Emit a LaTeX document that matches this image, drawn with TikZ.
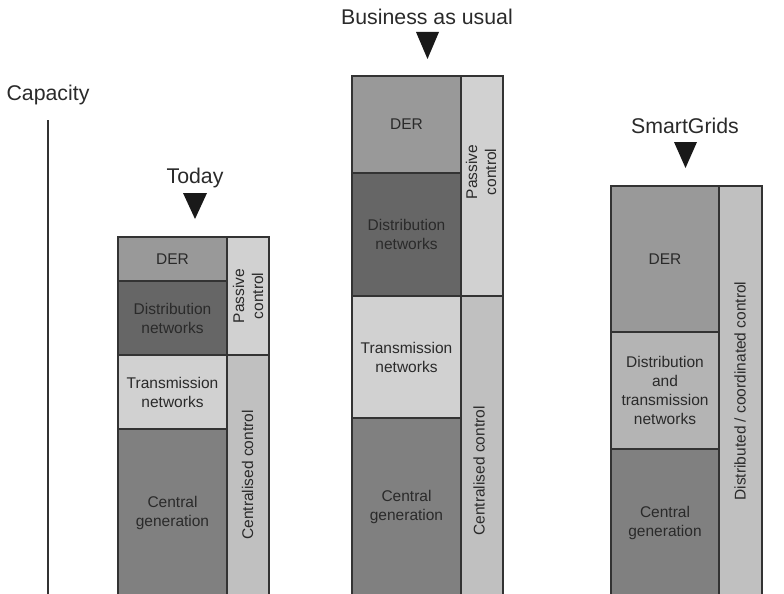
\documentclass[tikz,border=0pt]{standalone}
\usepackage{fontspec}
\setmainfont{Liberation Sans}
\definecolor{cder}{HTML}{999999}
\definecolor{cdist}{HTML}{666666}
\definecolor{ctrans}{HTML}{D1D1D1}
\definecolor{ccg}{HTML}{808080}
\definecolor{cpass}{HTML}{D1D1D1}
\definecolor{ccent}{HTML}{C0C0C0}
\definecolor{cdt}{HTML}{B4B4B4}
\definecolor{cline}{HTML}{333333}
\definecolor{ctext}{HTML}{2A2A2A}
\begin{document}
\begin{tikzpicture}[x=1pt,y=-1pt,
  box/.style={draw=cline, line width=1.1pt, inner sep=0pt, outer sep=0pt,
    text=ctext, font=\fontsize{15.5}{19}\selectfont, align=center},
  boxlbl/.style={inner sep=0pt, text=ctext, font=\fontsize{15.5}{19}\selectfont, align=center, rotate=90},
  ttl/.style={inner sep=0pt, text=ctext, font=\fontsize{21.3}{25}\selectfont},
  tri/.style={fill=black!90}]
\useasboundingbox (0,0) rectangle (784,594);
\clip (0,0) rectangle (784,594);

% axis
\node[ttl] (cap) at (48,95) {Capacity};
\coordinate (axtop) at (48,120);
\coordinate (axbot) at (48,596);
\draw[cline, line width=1.2pt] (axtop) -- (axbot);

% Today
\node[ttl] (today) at (195,178) {Today};
\fill[tri] (183,193) -- (207,193) -- (195,219) -- cycle;
\node[box, fill=cder, minimum width=109, minimum height=44] (tder) at (172.5,259) {DER};
\node[box, fill=cdist, minimum width=109, minimum height=74] (tdist) at (172.5,318) {Distribution\\networks};
\node[box, fill=ctrans, minimum width=109, minimum height=74] (ttrans) at (172.5,392) {Transmission\\networks};
\node[box, fill=ccg, minimum width=109, minimum height=167] (tcg) at (172.5,512.5) {Central\\generation};
\node[box, fill=cpass, minimum width=42, minimum height=118] (tpass) at (248,296) {};
\node[boxlbl] (tpasst) at (248,296) {Passive\\control};
\node[box, fill=ccent, minimum width=42, minimum height=241] (tcent) at (248,475.5) {};
\node[boxlbl] (tcentt) at (247.5,475) {Centralised control};

% Business as usual
\node[ttl] (bau) at (427,17) {Business as usual};
\fill[tri] (416,32) -- (439,32) -- (427.5,59) -- cycle;
\node[box, fill=cder, minimum width=109, minimum height=97] (bder) at (406.5,124.5) {DER};
\node[box, fill=cdist, minimum width=109, minimum height=123] (bdist) at (406.5,234.5) {Distribution\\networks};
\node[box, fill=ctrans, minimum width=109, minimum height=122] (btrans) at (406.5,357) {Transmission\\networks};
\node[box, fill=ccg, minimum width=109, minimum height=178] (bcg) at (406.5,507) {Central\\generation};
\node[box, fill=cpass, minimum width=42, minimum height=220] (bpass) at (482,186) {};
\node[boxlbl] (bpasst) at (481,172) {Passive\\control};
\node[box, fill=ccent, minimum width=42, minimum height=300] (bcent) at (482,446) {};
\node[boxlbl] (bcentt) at (479,471) {Centralised control};

% SmartGrids
\node[ttl] (sg) at (685,126) {SmartGrids};
\fill[tri] (674,142) -- (697,142) -- (685.5,168) -- cycle;
\node[box, fill=cder, minimum width=108, minimum height=146] (sder) at (665,259) {DER};
\node[box, fill=cdt, minimum width=108, minimum height=117] (sdt) at (665,390.5) {Distribution\\and\\transmission\\networks};
\node[box, fill=ccg, minimum width=108, minimum height=147] (scg) at (665,522.5) {Central\\generation};
\node[box, fill=ccent, minimum width=43, minimum height=410] (sctl) at (740.5,391) {};
\node[boxlbl] (sctlt) at (740,391) {Distributed / coordinated control};
\end{tikzpicture}
\end{document}
